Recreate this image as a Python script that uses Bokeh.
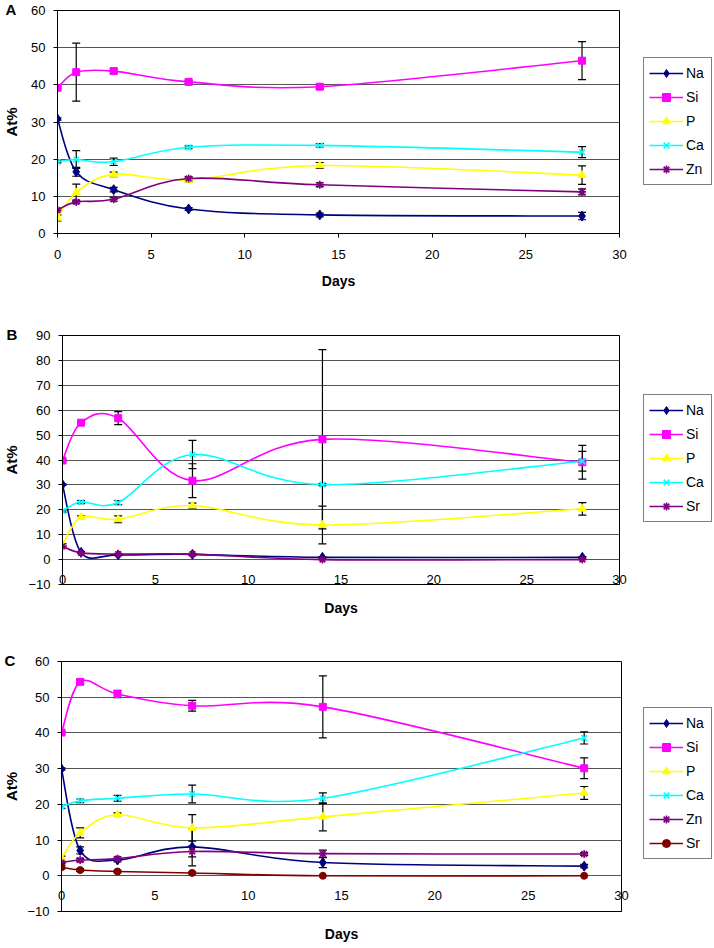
from bokeh.plotting import figure
from bokeh.models import (Range1d, FixedTicker, Legend, LegendItem, Whisker,
                          TeeHead, ColumnDataSource)
from bokeh.layouts import column, row
from bokeh.embed import file_html
from bokeh.resources import INLINE

FONT = "Liberation Sans"

days = [0, 1, 3, 7, 14, 28]
x_ticks = [0, 5, 10, 15, 20, 25, 30]

# ---- Panel A ----
a_yticks = [0, 10, 20, 30, 40, 50, 60]
a_na = [30.8, 16.6, 11.8, 6.6, 5.0, 4.7]
a_na_err = [0.3, 1.2, 0.6, 0.4, 0.5, 1.0]
a_si = [39.2, 43.4, 43.7, 40.8, 39.5, 46.5]
a_si_err = [0.3, 7.8, 0.6, 0.4, 0.5, 5.1]
a_p = [4.2, 11.0, 15.9, 14.4, 18.3, 15.7]
a_p_err = [0.8, 2.3, 0.6, 0.5, 0.8, 2.5]
a_ca = [19.3, 19.9, 19.3, 23.2, 23.7, 21.9]
a_ca_err = [0.3, 2.4, 1.0, 0.4, 0.5, 1.5]
a_zn = [6.3, 8.5, 9.2, 14.8, 13.1, 11.2]
a_zn_err = [0.5, 0.5, 0.5, 0.5, 0.5, 0.8]

# ---- Panel B ----
b_yticks = [-10, 0, 10, 20, 30, 40, 50, 60, 70, 80, 90]
b_na = [30.1, 2.9, 1.9, 2.1, 0.9, 0.9]
b_na_err = [0.3, 0.3, 0.3, 0.3, 0.3, 0.3]
b_si = [39.8, 55.0, 56.8, 31.7, 48.3, 39.1]
b_si_err = [0.4, 0.4, 2.6, 6.8, 36.0, 6.8]
b_p = [6.0, 17.0, 16.2, 21.7, 13.9, 20.4]
b_p_err = [0.4, 0.6, 1.4, 1.0, 7.6, 2.5]
b_ca = [19.5, 23.1, 22.9, 42.2, 30.1, 39.5]
b_ca_err = [0.4, 0.6, 0.8, 5.7, 0.4, 4.0]
b_sr = [5.3, 2.7, 2.2, 2.2, 0.0, 0.0]
b_sr_err = [0.3, 0.3, 0.3, 0.3, 0.0, 0.0]

# ---- Panel C ----
c_yticks = [-10, 0, 10, 20, 30, 40, 50, 60]
c_na = [29.9, 7.1, 4.4, 8.1, 3.7, 2.7]
c_na_err = [0.3, 1.0, 0.5, 5.3, 1.4, 0.5]
c_si = [40.1, 54.3, 50.9, 47.6, 47.3, 30.1]
c_si_err = [0.4, 0.6, 1.0, 1.5, 8.7, 2.9]
c_p = [4.9, 12.0, 17.1, 13.4, 16.5, 23.2]
c_p_err = [0.6, 1.4, 0.5, 3.7, 3.9, 1.8]
c_ca = [19.3, 21.0, 21.7, 22.9, 21.7, 38.6]
c_ca_err = [0.4, 0.5, 0.8, 2.5, 1.5, 1.7]
c_zn = [3.7, 4.4, 4.8, 6.8, 6.2, 6.1]
c_zn_err = [0.3, 0.5, 0.5, 1.5, 1.0, 0.4]
c_sr = [2.4, 1.6, 1.2, 0.8, 0.0, 0.0]
c_sr_err = [0.5, 0.4, 0.3, 0.3, 0.0, 0.0]

STYLE = {
    "Na": ("#000080", "diamond", 10),
    "Si": ("#FF00FF", "square", 7),
    "P": ("#FFFF00", "triangle", 8),
    "Ca": ("#00FFFF", "x", 8),
    "Zn": ("#800080", "asterisk", 8),
    "SrB": ("#800080", "asterisk", 8),
    "SrC": ("#800000", "circle", 7),
}

MAIN_W = 632
LEG_W = 80


def smooth_segments(xs, ys, t=1.0 / 6.0):
    n = len(xs)
    seg = dict(x0=[], y0=[], x1=[], y1=[], cx0=[], cy0=[], cx1=[], cy1=[])
    for i in range(n - 1):
        ip = max(i - 1, 0)
        inx = min(i + 2, n - 1)
        seg["x0"].append(xs[i]); seg["y0"].append(ys[i])
        seg["x1"].append(xs[i + 1]); seg["y1"].append(ys[i + 1])
        seg["cx0"].append(xs[i] + (xs[i + 1] - xs[ip]) * t)
        seg["cy0"].append(ys[i] + (ys[i + 1] - ys[ip]) * t)
        seg["cx1"].append(xs[i + 1] - (xs[inx] - xs[i]) * t)
        seg["cy1"].append(ys[i + 1] - (ys[inx] - ys[i]) * t)
    return seg


def make_panel(letter, series, y_min, y_max, y_ticks, height, b_top, b_bottom,
               b_left, b_right, xl_standoff, xtick_out, days_standoff,
               yl_standoff, legend_y):
    p = figure(width=MAIN_W, height=height, output_backend="svg", toolbar_location=None,
               x_range=Range1d(0, 30), y_range=Range1d(y_min, y_max),
               min_border_left=b_left, min_border_right=b_right,
               min_border_top=b_top, min_border_bottom=b_bottom)
    p.background_fill_color = "white"
    p.border_fill_color = "white"
    p.outline_line_color = "black"
    p.outline_line_width = 1
    p.xgrid.visible = False
    p.ygrid.ticker = FixedTicker(ticks=y_ticks)
    p.ygrid.grid_line_color = "#555555"
    p.ygrid.grid_line_width = 1

    # panel letter: left-aligned title sitting on the frame's top edge
    p.title.text = letter
    p.title.align = "left"
    p.title.offset = -(b_left - 4)
    p.title.standoff = -14
    p.title.text_font = FONT
    p.title.text_font_style = "bold"
    p.title.text_font_size = "15px"
    p.title.text_color = "black"

    xa = p.xaxis[0]
    xa.ticker = FixedTicker(ticks=x_ticks)
    xa.major_label_standoff = xl_standoff
    xa.major_tick_out = xtick_out
    xa.major_tick_in = 0
    xa.minor_tick_out = 0
    xa.minor_tick_in = 0
    xa.axis_line_color = "black"
    xa.major_tick_line_color = "black"
    xa.major_label_text_font = FONT
    xa.major_label_text_font_size = "13px"
    xa.major_label_text_color = "black"
    xa.axis_label = "Days"
    xa.axis_label_text_font = FONT
    xa.axis_label_text_font_style = "bold"
    xa.axis_label_text_font_size = "14px"
    xa.axis_label_text_color = "black"
    xa.axis_label_standoff = days_standoff

    ya = p.yaxis[0]
    ya.ticker = FixedTicker(ticks=y_ticks)
    ya.major_label_standoff = 8
    ya.major_tick_out = 4
    ya.major_tick_in = 0
    ya.minor_tick_out = 0
    ya.minor_tick_in = 0
    ya.axis_line_color = "black"
    ya.major_tick_line_color = "black"
    ya.major_label_text_font = FONT
    ya.major_label_text_font_size = "13px"
    ya.major_label_text_color = "black"
    ya.axis_label = "At%"
    ya.axis_label_text_font = FONT
    ya.axis_label_text_font_style = "bold"
    ya.axis_label_text_font_size = "15px"
    ya.axis_label_text_color = "black"
    ya.axis_label_standoff = yl_standoff

    # separate narrow figure that only hosts the legend box
    lg = figure(width=LEG_W, height=height, output_backend="svg", toolbar_location=None,
                x_range=Range1d(1000, 1001), y_range=Range1d(1000, 1001),
                x_axis_location=None, y_axis_location=None,
                min_border_left=0, min_border_right=0, min_border_top=0,
                min_border_bottom=0)
    lg.outline_line_color = None
    lg.background_fill_color = "white"
    lg.border_fill_color = "white"
    lg.grid.visible = False

    items = []
    for name, key, vals, errs in series:
        color, marker, size = STYLE[key]
        seg = smooth_segments(days, vals)
        p.bezier(x0="x0", y0="y0", x1="x1", y1="y1", cx0="cx0", cy0="cy0",
                 cx1="cx1", cy1="cy1", source=ColumnDataSource(seg),
                 line_color=color, line_width=1.6)
        ex = [d for d, e in zip(days, errs) if e > 0]
        eu = [v + e for v, e in zip(vals, errs) if e > 0]
        el = [v - e for v, e in zip(vals, errs) if e > 0]
        wsrc = ColumnDataSource(dict(base=ex, upper=eu, lower=el))
        w = Whisker(source=wsrc, base="base", upper="upper", lower="lower",
                    line_color="black", line_width=1.2,
                    upper_head=TeeHead(size=8, line_color="black", line_width=1.2),
                    lower_head=TeeHead(size=8, line_color="black", line_width=1.2))
        p.add_layout(w)
        lw = 1.6 if marker in ("x", "asterisk") else 1
        p.scatter(x=days, y=vals, marker=marker, size=size,
                  fill_color=color, line_color=color, line_width=lw)
        # legend renderers (same series, outside the legend figure's view)
        l_line = lg.line(x=days, y=vals, line_color=color, line_width=1.6)
        l_mk = lg.scatter(x=days, y=vals, marker=marker, size=size,
                          fill_color=color, line_color=color, line_width=lw)
        items.append(LegendItem(label=name, renderers=[l_line, l_mk]))

    legend = Legend(items=items, location=(11, legend_y))
    legend.padding = 5
    legend.spacing = 4
    legend.margin = 0
    legend.glyph_width = 34
    legend.glyph_height = 20
    legend.label_height = 20
    legend.label_standoff = 3
    legend.label_text_font = FONT
    legend.label_text_font_size = "14px"
    legend.label_text_color = "black"
    legend.border_line_color = "black"
    legend.border_line_width = 1
    legend.background_fill_color = "white"
    legend.background_fill_alpha = 1
    lg.add_layout(legend)
    return row(p, lg, spacing=0)


pA = make_panel("A", [("Na", "Na", a_na, a_na_err), ("Si", "Si", a_si, a_si_err),
                      ("P", "P", a_p, a_p_err), ("Ca", "Ca", a_ca, a_ca_err),
                      ("Zn", "Zn", a_zn, a_zn_err)],
                0, 60, a_yticks, height=300, b_top=10, b_bottom=67, b_left=56, b_right=13,
                xl_standoff=12, xtick_out=4, days_standoff=11, yl_standoff=8,
                legend_y=48)

pB = make_panel("B", [("Na", "Na", b_na, b_na_err), ("Si", "Si", b_si, b_si_err),
                      ("P", "P", b_p, b_p_err), ("Ca", "Ca", b_ca, b_ca_err),
                      ("Sr", "SrB", b_sr, b_sr_err)],
                -10, 90, b_yticks, height=325, b_top=35, b_bottom=41, b_left=60, b_right=13,
                xl_standoff=-10, xtick_out=0, days_standoff=13, yl_standoff=5,
                legend_y=62)

pC = make_panel("C", [("Na", "Na", c_na, c_na_err), ("Si", "Si", c_si, c_si_err),
                      ("P", "P", c_p, c_p_err), ("Ca", "Ca", c_ca, c_ca_err),
                      ("Zn", "Zn", c_zn, c_zn_err), ("Sr", "SrC", c_sr, c_sr_err)],
                -10, 60, c_yticks, height=321, b_top=36, b_bottom=35, b_left=61, b_right=11,
                xl_standoff=-21, xtick_out=0, days_standoff=23, yl_standoff=4,
                legend_y=52)

layout = column(pA, pB, pC, spacing=0)
open("out.html", "w").write(file_html(layout, INLINE))
